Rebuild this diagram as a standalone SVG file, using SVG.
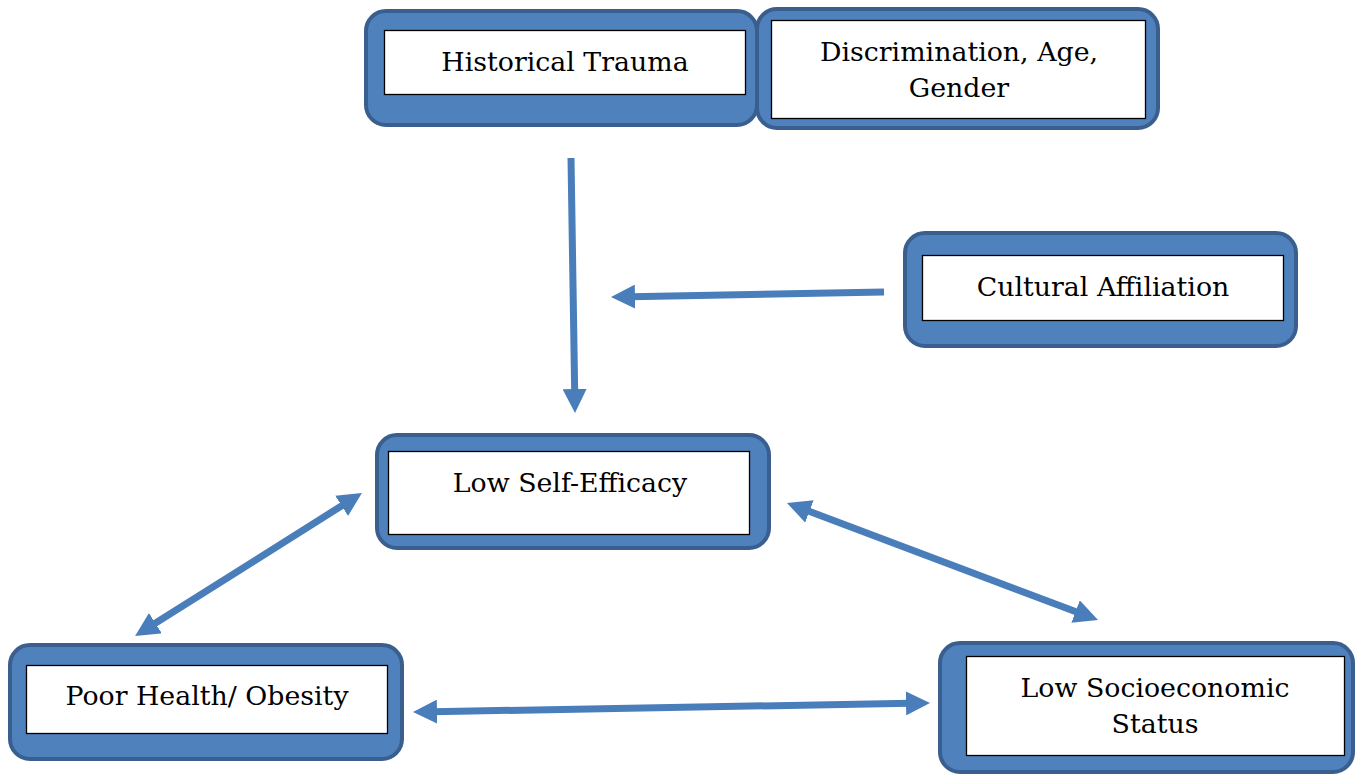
<svg xmlns="http://www.w3.org/2000/svg" width="1355" height="774" viewBox="0 0 1355 774">
<style>
.outer{fill:#4F81BD;stroke:#3A5F8E;stroke-width:4}
.inner{fill:#fff;stroke:#000;stroke-width:1.3}
.t{font-family:"DejaVu Serif","Liberation Serif",serif;font-size:26.8px;fill:#000;text-anchor:middle}
.c{stroke:#4A7EBB;stroke-width:7;fill:none}
</style>
<defs>
<marker id="ah" markerUnits="userSpaceOnUse" markerWidth="24" markerHeight="24" refX="4" refY="12" orient="auto-start-reverse" viewBox="0 0 24 24">
<path d="M0,0 L24,12 L0,24 Z" fill="#4A7EBB"/>
</marker>
</defs>
<rect width="1355" height="774" fill="#fff"/>
<g id="connectors">
<line class="c" x1="571" y1="158" x2="574.7" y2="393" marker-end="url(#ah)"/>
<line class="c" x1="884" y1="292" x2="631" y2="296.7" marker-end="url(#ah)"/>
<line class="c" x1="152" y1="625.3" x2="345" y2="503.7" marker-start="url(#ah)" marker-end="url(#ah)"/>
<line class="c" x1="805.7" y1="510" x2="1079.3" y2="613" marker-start="url(#ah)" marker-end="url(#ah)"/>
<line class="c" x1="433" y1="711.7" x2="910" y2="703.3" marker-start="url(#ah)" marker-end="url(#ah)"/>
</g>
<g id="historical-trauma">
<rect class="outer" x="366" y="11" width="391" height="114" rx="20"/>
<rect class="inner" x="384.5" y="30.5" width="361" height="64"/>
<text class="t" x="565" y="71">Historical Trauma</text>
</g>
<g id="discrimination">
<rect class="outer" x="757" y="9" width="401" height="119" rx="20"/>
<rect class="inner" x="771.5" y="20.5" width="374" height="98"/>
<text class="t" x="959" y="61">Discrimination, Age,</text>
<text class="t" x="959" y="97">Gender</text>
</g>
<g id="cultural-affiliation">
<rect class="outer" x="905" y="233" width="391" height="113" rx="20"/>
<rect class="inner" x="922.5" y="255.5" width="361" height="65"/>
<text class="t" x="1103" y="296">Cultural Affiliation</text>
</g>
<g id="low-self-efficacy">
<rect class="outer" x="377" y="435" width="392" height="113" rx="20"/>
<rect class="inner" x="388.5" y="451.5" width="361" height="83"/>
<text class="t" x="570" y="492">Low Self-Efficacy</text>
</g>
<g id="poor-health">
<rect class="outer" x="10" y="645" width="392" height="114" rx="20"/>
<rect class="inner" x="26.5" y="665.5" width="361" height="68"/>
<text class="t" x="207" y="705">Poor Health/ Obesity</text>
</g>
<g id="low-ses">
<rect class="outer" x="940" y="643" width="413" height="129" rx="20"/>
<rect class="inner" x="966.5" y="656.5" width="378" height="99"/>
<text class="t" x="1155" y="697">Low Socioeconomic</text>
<text class="t" x="1155" y="733">Status</text>
</g>
</svg>
